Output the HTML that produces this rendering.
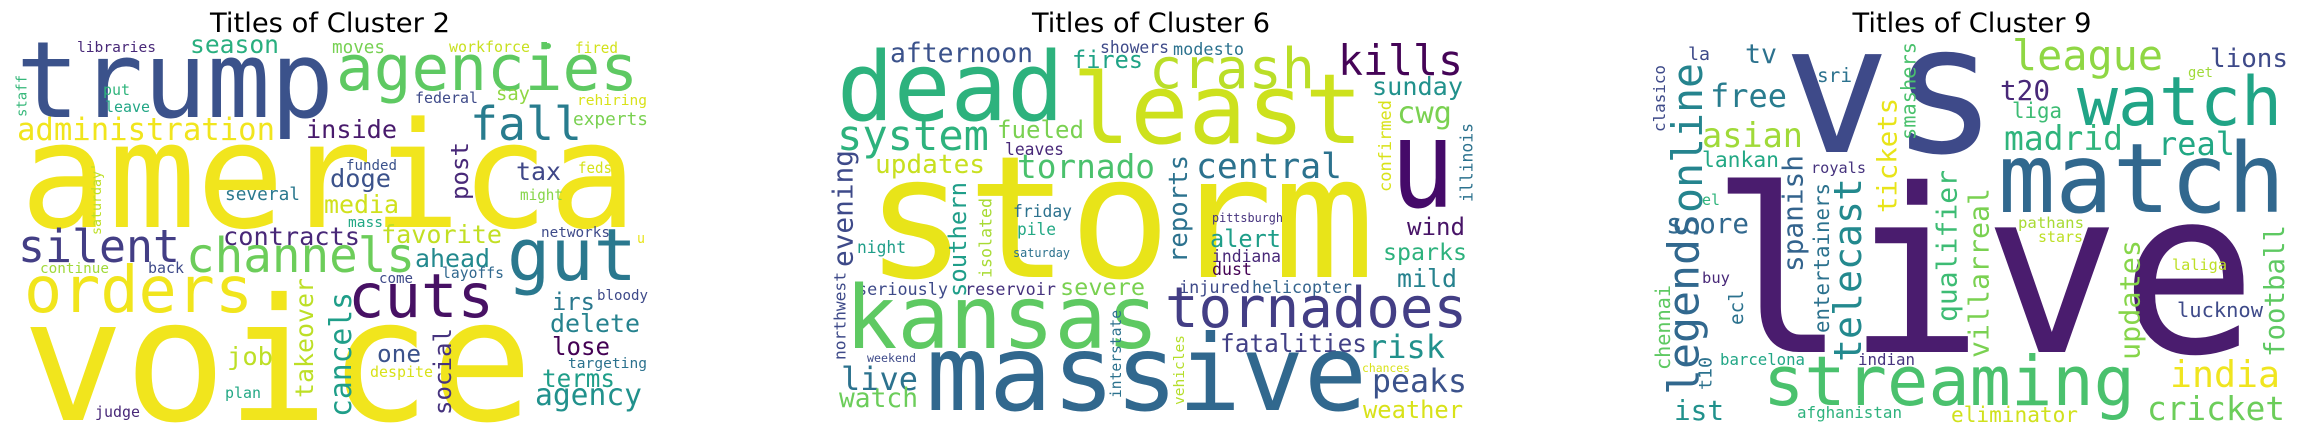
<!DOCTYPE html>
<html><head><meta charset="utf-8"><style>
html,body{margin:0;padding:0;background:#fff;width:2302px;height:435px;overflow:hidden;}
svg{display:block;overflow:hidden;}
text{font-family:"DejaVu Sans Mono","Liberation Mono",monospace;}
.t{font-family:"DejaVu Sans","Liberation Sans",sans-serif;}
</style></head><body>
<svg id="chart" width="2302" height="435" viewBox="0 0 2302 435" xmlns="http://www.w3.org/2000/svg">
<text class="t" x="330" y="32" font-size="27" text-anchor="middle" textLength="240" lengthAdjust="spacingAndGlyphs" fill="#000">Titles of Cluster 2</text>
<text class="t" x="1151" y="32" font-size="27" text-anchor="middle" textLength="238" lengthAdjust="spacingAndGlyphs" fill="#000">Titles of Cluster 6</text>
<text class="t" x="1972" y="32" font-size="27" text-anchor="middle" textLength="239" lengthAdjust="spacingAndGlyphs" fill="#000">Titles of Cluster 9</text>
<circle cx="548" cy="46" r="3" fill="#5ec962"/>
<g id="words"></g>
</svg>
<script>
// word, left x, baseline y (or bottom y if vertical), font size, color, ink length, vertical flag
const cluster2Words = [
["trump",16,117,106,"#3b528b",318,0],["america",20,227,147,"#f1e51d",617,0],["voice",22,420,170,"#f1e51d",511,0],
["orders",24,312,64,"#f1e51d",229,0],["agencies",336,90,63,"#5ec962",302,0],["gut",507,280,72,"#2a788e",130,0],
["cuts",348,317,61,"#471164",146,0],["silent",18,262,45,"#433e85",162,0],["channels",186,272,48,"#6ccd5a",229,0],
["fall",470,140,46,"#287c8e",112,0],["administration",17,140,31,"#f1e51d",258,0],["season",190,53,25,"#29af7f",89,0],
["libraries",77,52,14.6,"#482878",79,0],["moves",332,53,17.7,"#77d153",53,0],["workforce",449,52,15,"#c8e020",81,0],
["fired",575,53,15,"#d2e21b",43,0],["put",103,95,15,"#2fb47c",27,0],["leave",105,112,15,"#21a685",45,0],
["federal",415,103,15,"#3e4a89",63,0],["say",496,100,19,"#90d743",34,0],["rehiring",577,105,14.5,"#d8e219",70,0],
["experts",573,125,18,"#7ad151",75,0],["inside",306,138,25,"#481a6c",91,0],["tax",516,180,25,"#3f4788",45,0],
["feds",578,173,15,"#d5e21a",34,0],["might",520,200,15,"#86d549",43,0],["funded",346,170,14,"#3b528b",51,0],
["doge",330,187,25,"#3b528b",61,0],["several",225,200,18,"#2a788e",75,0],["media",324,213,25,"#d0e11c",75,0],
["mass",348,227,14.6,"#22a884",35,0],["contracts",223,245,25,"#482878",137,0],["favorite",381,243,25,"#c2df23",121,0],
["networks",541,237,14.5,"#3e4a89",69,0],["u",637,243,14,"#e8e419",8,0],["ahead",415,267,25,"#23898e",75,0],
["continue",40,273,14,"#a0da39",69,0],["back",148,273,15,"#3e4a89",36,0],["come",379,283,14,"#3e4a89",34,0],
["layoffs",442,278,15,"#31688e",62,0],["irs",552,310,24,"#2a788e",43,0],["bloody",597,300,14,"#3e4a89",51,0],
["delete",550,332,25,"#26828e",90,0],["job",227,365,25,"#bddf26",46,0],["one",377,362,24,"#3b528b",44,0],
["lose",552,355,25,"#440154",58,0],["targeting",568,368,14.6,"#2c728e",79,0],["despite",370,377,15,"#d8e219",63,0],
["terms",542,387,24.6,"#1f9e89",73,0],["agency",535,405,30,"#21918c",107,0],["plan",225,398,15,"#22a884",36,0],
["judge",95,417,15,"#482878",45,0],
["staff",16,117,14,"#35b779",42,1],["post",450,200,24,"#482878",58,1],["saturday'",91,235,13.3,"#bddf26",72,1],
["takeover",294,398,25,"#bddf26",120,1],["cancels",328,417,30,"#1f9e89",125,1],["social",433,415,24,"#46337e",87,1]
];
const cluster6Words = [
["storm",865,277,170,"#e8e419",510,0],["dead",837,120,95,"#2db27d",227,0],["least",1072,143,97,"#cde11d",291,0],
["crash",1149,88,56,"#bade28",166,0],["kills",1338,75,42,"#450457",125,0],["afternoon",890,62,26.5,"#3b528b",143,0],
["showers",1100,53,16.4,"#3e4a89",69,0],["modesto",1173,55,17,"#2c728e",71,0],["fires",1072,68,24,"#20a386",71,0],
["system",837,150,42,"#2db27d",152,0],["fueled",997,138,24,"#7ad151",87,0],["leaves",1005,155,16.4,"#482878",59,0],
["updates",875,173,26,"#c8e020",110,0],["tornado",1017,178,33,"#4ac16d",138,0],["central",1196,178,35,"#2c728e",146,0],
["friday",1013,217,16.4,"#2c728e",59,0],["pile",1017,235,16.4,"#22a884",39,0],["saturday",1013,257,12,"#2c728e",57,0],
["night",857,253,16.4,"#1f9e89",49,0],["pittsburgh",1212,222,12,"#46337e",71,0],["alert",1210,247,24,"#1f9e89",71,0],
["indiana",1212,262,16.4,"#482878",69,0],["dust",1212,275,16.6,"#440154",40,0],["seriously",857,295,16.8,"#3e4a89",91,0],
["reservoir",965,295,16.8,"#46337e",91,0],["severe",1060,295,23.5,"#7ad151",85,0],["injured",1179,293,17,"#3e4a89",71,0],
["helicopter",1252,293,16.8,"#33638d",100,0],["kansas",845,348,87,"#5ec962",314,0],["tornadoes",1165,327,56,"#433e85",302,0],
["fatalities",1220,352,24.5,"#424086",147,0],["risk",1368,358,32,"#21918c",77,0],["chances",1362,372,11.5,"#d8e219",48,0],
["peaks",1372,392,32,"#3b528b",95,0],["weather",1363,418,24,"#d8e219",100,0],["massive",926,410,105,"#31688e",441,0],
["live",841,390,32,"#2c728e",77,0],["watch",839,407,26.5,"#6ccd5a",79,0],["weekend",867,362,11.7,"#3e4a89",49,0],
["sunday",1372,95,25,"#21918c",91,0],["cwg",1397,123,30,"#7ad151",55,0],["u",1390,207,122,"#450a69",65,0],
["wind",1407,235,24,"#481467",58,0],["sparks",1383,260,23,"#2db27d",84,0],["mild",1397,287,25,"#26828e",60,0],
["evening",831,267,28,"#3e4a89",117,1],["southern",948,297,24,"#1f9e89",115,1],["isolated",979,278,16.7,"#a8db34",80,1],
["reports",1167,263,26,"#2c728e",108,1],["northwest",833,360,16.3,"#3e4a89",88,1],["interstate",1110,398,14.7,"#2c728e",88,1],
["vehicles",1173,405,14.6,"#b5de2b",70,1],["confirmed",1378,192,17,"#d8e219",92,1],["illinois",1460,202,16.5,"#2c728e",79,1]
];
const cluster9Words = [
["live",1710,352,228,"#4a1c6e",547,0],["vs",1783,152,179,"#3e4a89",215,0],["league",2012,70,42,"#8fd744",151,0],
["watch",2077,125,68,"#20a486",205,0],["match",1998,212,96,"#31688e",287,0],["tv",1745,63,27,"#2c728e",32,0],
["la",1688,60,18,"#3e4a89",22,0],["free",1710,107,32,"#287c8e",77,0],["sri",1817,82,19.5,"#2c728e",35,0],
["t20",2000,100,28,"#482878",50,0],["liga",2012,118,21,"#3dbc74",50,0],["asian",1702,147,34,"#a0da39",101,0],
["lankan",1702,167,21,"#22a884",77,0],["madrid",2004,150,34,"#2fb47c",119,0],["royals",1811,173,15,"#46337e",55,0],
["el",1702,205,15,"#2fb47c",18,0],["score",1666,233,28,"#31688e",83,0],["pathans",2018,228,15.5,"#a8db34",66,0],
["stars",2038,242,15,"#bddf26",45,0],["buy",1702,283,15.5,"#482878",28,0],["barcelona",1720,365,15.7,"#21a685",85,0],
["indian",1858,365,15.8,"#46337e",57,0],["streaming",1763,405,69,"#4ac16d",372,0],["ist",1674,420,28,"#21918c",50,0],
["afghanistan",1797,418,15.9,"#2db27d",105,0],["eliminator",1951,422,21,"#d0e11c",127,0],["cricket",2147,420,33,"#6ccd5a",138,0],
["lions",2210,67,26,"#3e4a89",78,0],["get",2188,77,14,"#a0da39",25,0],["real",2158,155,32,"#22a884",77,0],
["laliga",2172,270,15,"#bddf26",55,0],["lucknow",2177,317,20.5,"#3e4a89",86,0],["india",2170,387,36.7,"#f0e51f",110,0],
["online",1670,213,42,"#25848e",150,1],["legends",1666,395,43,"#31688e",182,1],["clasico",1653,132,16,"#3e4a89",67,1],
["smashers",1900,140,20.5,"#4ac16d",98,1],["tickets",1876,213,27,"#e8e419",115,1],["spanish",1781,272,28,"#33638d",117,1],
["telecast",1832,362,38,"#23898e",184,1],["entertainers",1813,333,21,"#2c728e",150,1],["qualifier",1935,322,28,"#3dbc74",152,1],
["villarreal",1967,358,28,"#7ad151",170,1],["updates",2118,360,28,"#86d549",120,1],["chennai",1655,370,20,"#5ec962",85,1],
["ecl",1728,325,19.5,"#2c728e",35,1],["t10",1698,390,18,"#2c728e",33,1],["football",2263,357,27.5,"#5ec962",132,1]
];
const NS = "http://www.w3.org/2000/svg";
const g = document.getElementById("words");
function draw(list, prefix) {
  list.forEach(function (w) {
    const el = document.createElementNS(NS, "text");
    el.textContent = w[0];
    el.setAttribute("font-size", w[3]);
    el.setAttribute("fill", w[4]);
    el.setAttribute("textLength", w[5]);
    el.setAttribute("lengthAdjust", "spacingAndGlyphs");
    if (w[6]) {
      const bx = w[1] + 0.76 * w[3];
      el.setAttribute("transform", "translate(" + bx + "," + w[2] + ") rotate(-90)");
    } else {
      el.setAttribute("x", w[1]);
      el.setAttribute("y", w[2]);
    }
    
    
    g.appendChild(el);
  });
}
draw(cluster2Words, "cluster2");
draw(cluster6Words, "cluster6");
draw(cluster9Words, "cluster9");
</script>
</body></html>
